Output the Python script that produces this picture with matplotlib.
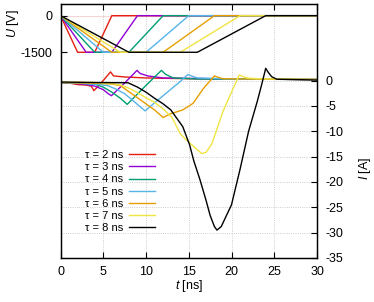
import matplotlib
matplotlib.use("Agg")
import matplotlib.pyplot as plt

plt.rcParams['font.family'] = ['Liberation Sans', 'DejaVu Sans']
plt.rcParams['axes.unicode_minus'] = False
plt.rcParams['mathtext.fontset'] = 'custom'
plt.rcParams['mathtext.it'] = 'Liberation Sans:italic'
plt.rcParams['mathtext.rm'] = 'Liberation Sans'

# -------------------------------------------------
# Data: pulse widths, voltage (top) and current (bottom)
# -------------------------------------------------
taus = [2, 3, 4, 5, 6, 7, 8]
colors = ['#e51e10', '#9400d3', '#009e73', '#56b4e9', '#e69f00', '#f0e442', '#000000']

# voltage traces, t [ns] / U [V]
u_t2 = [0, 2, 4, 6, 30]
u_t3 = [0, 3, 6, 9, 30]
u_t4 = [0, 4, 8, 12, 30]
u_t5 = [0, 5, 10, 15, 30]
u_t6 = [0, 6, 12, 18, 30]
u_t7 = [0, 7, 14, 21, 30]
u_t8 = [0, 8, 16, 24, 30]
u_v = [0, -1500, -1500, 0, 0]

# current traces, t [ns] / I [A]
i_t2 = [0, 1, 2, 3, 3.6, 3.9, 4.3, 5.0, 5.85, 6.2, 7.5, 10, 15, 20, 30]
i_v2 = [-0.4, -0.5, -0.8, -0.9, -1.1, -2.0, -1.3, 0.0, 1.7, 0.9, 0.7, 0.5, 0.35, 0.3, 0.2]

i_t3 = [0, 1, 2, 3, 4, 5, 5.5, 5.95, 7.5, 8.95, 9.3, 10.2, 12, 20, 30]
i_v3 = [-0.4, -0.5, -0.6, -0.8, -1.1, -1.8, -2.5, -3.0, -0.5, 2.0, 1.4, 0.9, 0.5, 0.3, 0.2]

i_t4 = [0, 2, 4, 5, 6, 7, 7.8, 9.8, 11.8, 12.3, 13.2, 16, 30]
i_v4 = [-0.4, -0.5, -0.7, -1.3, -2.3, -3.5, -4.7, -1.3, 2.0, 1.2, 0.5, 0.3, 0.2]

i_t5 = [0, 2, 4.4, 5.5, 6.5, 7.5, 8.5, 9.9, 11, 12.5, 14, 14.9, 15.3, 16, 20, 30]
i_v5 = [-0.4, -0.5, -0.8, -1.0, -1.7, -2.6, -4.0, -6.0, -4.4, -2.3, -0.2, 1.2, 0.9, 0.5, 0.3, 0.2]

i_t6 = [0, 3, 5, 6, 7, 8, 9, 10, 11, 12, 12.8, 14.3, 15.5, 16.7, 18, 18.5, 19, 22, 30]
i_v6 = [-0.4, -0.5, -0.6, -0.7, -1.0, -2.2, -3.4, -4.6, -5.8, -7.3, -6.6, -5.8, -4.5, -1.6, 0.9, 0.6, 0.35, 0.3, 0.2]

i_t7 = [0, 4, 6, 7, 8, 9, 10, 11, 12, 13, 13.5, 14, 14.7, 15.5, 16.5, 17, 17.7, 19, 20.9, 21.3, 21.8, 23, 30]
i_v7 = [-0.3, -0.4, -0.6, -0.9, -1.5, -2.4, -3.4, -4.3, -5.6, -7.2, -8.8, -10.5, -11.7, -12.9, -14.4, -14.2,
        -12.5, -6.1, 1.1, 0.8, 0.5, 0.35, 0.2]

i_t8 = [0, 4, 7.9, 9.0, 10, 11, 12, 12.9, 14.3, 15.1, 15.6, 16.3, 17, 17.5, 18, 18.3, 18.8, 20, 21, 22, 23,
        23.5, 24.0, 24.3, 24.7, 25.3, 30]
i_v8 = [-0.3, -0.4, -0.45, -1.3, -2.3, -3.5, -4.6, -5.8, -9.1, -12.7, -15.9, -19.5, -23.5, -26.6, -28.8,
        -29.5, -28.8, -24.5, -17.5, -10.0, -4.2, -1.0, 2.4, 1.6, 0.75, 0.25, 0.1]

u_ts = [u_t2, u_t3, u_t4, u_t5, u_t6, u_t7, u_t8]
i_ts = [i_t2, i_t3, i_t4, i_t5, i_t6, i_t7, i_t8]
i_vs = [i_v2, i_v3, i_v4, i_v5, i_v6, i_v7, i_v8]

# -------------------------------------------------
# Figure
# -------------------------------------------------
fig = plt.figure(figsize=(3.74, 3.02), dpi=100)
ax = fig.add_axes([0.1618, 0.1457, 0.6858, 0.8411])
ax2 = ax.twinx()

ax.grid(True, ls=':', color='#bdbdbd', lw=0.6)
ax2.axhline(0, color='#f5d6d6', lw=0.8, zorder=0)

handles = []
for tau, c, ut, it, iv in zip(taus, colors, u_ts, i_ts, i_vs):
    ax2.plot(ut, u_v, color=c, lw=1.0)
    h, = ax.plot(it, iv, color=c, lw=1.0)
    handles.append(h)

ax.set_xlim(0, 30)
ax.set_xticks([0, 5, 10, 15, 20, 25, 30])
ax.set_ylim(-35, 15.09)
ax.set_yticks([0, -5, -10, -15, -20, -25, -30, -35])
ax.yaxis.tick_right()
ax.tick_params(axis='both', direction='in', length=4, width=0.8, labelsize=9)
ax.tick_params(axis='x', top=True, pad=6)
ax.tick_params(axis='y', pad=6)

ax2.set_ylim(-9930, 479)
ax2.set_yticks([0, -1500])
ax2.yaxis.tick_left()
ax2.tick_params(axis='y', direction='in', length=4, width=0.8, labelsize=9, pad=6)

for a in (ax, ax2):
    for s in a.spines.values():
        s.set_linewidth(0.9)

fig.text(13 / 374, 1 - 24 / 302, r'$U$ [V]', rotation=90, ha='center', va='center', fontsize=9)
fig.text(365 / 374, 1 - 168 / 302, r'$I$ [A]', rotation=90, ha='center', va='center', fontsize=9)
fig.text(189 / 374, 1 - 286 / 302, r'$t$ [ns]', ha='center', va='center', fontsize=9)

ax2.legend(handles, ['\u03c4 = %d ns' % t for t in taus], loc='upper left',
           bbox_to_anchor=(0.095, 0.425), frameon=False, markerfirst=False, fontsize=8,
           handlelength=2.4, handletextpad=0.5, labelspacing=0.2, borderpad=0, borderaxespad=0)

fig.savefig('out.png', dpi=100)
